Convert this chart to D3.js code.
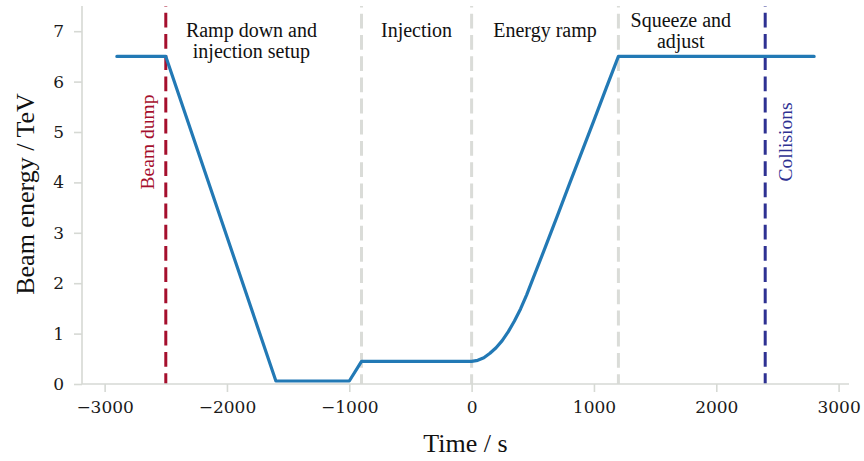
<!DOCTYPE html>
<html>
<head>
<meta charset="utf-8">
<script src="https://cdn.jsdelivr.net/npm/d3@7"></script>
<style>
  html, body { margin: 0; padding: 0; background: #fff; }
  svg { display: block; }
</style>
</head>
<body>
<svg id="chart" width="864" height="461"></svg>
<script>
// ---- data ----
const time   = [-2900, -2500, -1600, -1000, -900, 0, 50, 100, 150, 200, 250, 300, 350, 400, 450, 500, 600, 700, 800, 900, 1000, 1100, 1200, 2800];
const energy = [6.5, 6.5, 0.06, 0.06, 0.45, 0.45, 0.47, 0.52, 0.61, 0.72, 0.86, 1.04, 1.25, 1.49, 1.77, 2.08, 2.70, 3.33, 3.97, 4.60, 5.23, 5.87, 6.5, 6.5];

const phaseBoundaries = [-900, 0, 1200];
const eventTimes  = [-2500, 2400];
const eventLabels = ["Beam dump", "Collisions"];
const eventColors = ["#a50f2d", "#2e3192"];

const phaseLabels = [["Ramp down and", "injection setup"], ["Injection"], ["Energy ramp"], ["Squeeze and", "adjust"]];
const phaseLabelTimes = [-1800, -450, 600, 1710];
const phaseLabelTop = [36.5, 36.5, 36.5, 26.5];

const xTicks = [-3000, -2000, -1000, 0, 1000, 2000, 3000];
const yTicks = [0, 1, 2, 3, 4, 5, 6, 7];
const xDomain = [-3185, 3085];
const yDomain = [0, 7.5];

// ---- layout ----
const svg = d3.select("#chart");
const L = 82, R = 849, T = 6, B = 384;
const x = d3.scaleLinear().domain(xDomain).range([L, R]);
const y = d3.scaleLinear().domain(yDomain).range([B, T]);

const spineColor = "#d6d9d4";
const serif = "'Liberation Serif', 'Times New Roman', serif";

// phase boundary lines (gray dashed), drawn bottom to top
svg.append("g").selectAll("line").data(phaseBoundaries).join("line")
  .attr("x1", d => x(d)).attr("x2", d => x(d))
  .attr("y1", B).attr("y2", T)
  .attr("stroke", "#dadcd8").attr("stroke-width", 3)
  .attr("stroke-dasharray", "14.8,6.4").attr("stroke-dashoffset", 5);

// event lines
svg.append("g").selectAll("line").data(eventTimes).join("line")
  .attr("x1", d => x(d)).attr("x2", d => x(d))
  .attr("y1", B).attr("y2", T)
  .attr("stroke", (d, i) => eventColors[i]).attr("stroke-width", 3)
  .attr("stroke-dasharray", "14.8,6.4").attr("stroke-dashoffset", 4);

// energy line
const pts = time.map((t, i) => [t, energy[i]]);
svg.append("path")
  .datum(pts)
  .attr("fill", "none")
  .attr("stroke", "#2279b5")
  .attr("stroke-width", 3.2)
  .attr("stroke-linejoin", "round")
  .attr("stroke-linecap", "round")
  .attr("d", d3.line().x(d => x(d[0])).y(d => y(d[1])));

// axes
const xAxis = svg.append("g").attr("transform", `translate(0,${B})`)
  .call(d3.axisBottom(x).tickValues(xTicks).tickSizeOuter(0).tickSize(8).tickPadding(9)
    .tickFormat(d => d < 0 ? "\u2212" + Math.abs(d) : String(d)));
const yAxis = svg.append("g").attr("transform", `translate(${L},0)`)
  .call(d3.axisLeft(y).tickValues(yTicks).tickSizeOuter(0).tickSize(8).tickPadding(10)
    .tickFormat(d3.format("d")));

[xAxis, yAxis].forEach(g => {
  g.select(".domain").attr("stroke", spineColor).attr("stroke-width", 1.6);
  g.selectAll(".tick line").attr("stroke", spineColor).attr("stroke-width", 1.6);
  g.selectAll(".tick text").attr("fill", "#1a1a1a")
    .style("font-family", "'DejaVu Serif', serif").style("font-size", "17px");
});
// extend spines to full plot area
xAxis.select(".domain").attr("d", `M${L},0H${R}`);
yAxis.select(".domain").attr("d", `M0,${T}V${B}`);

// axis labels
svg.append("text")
  .attr("x", (L + R) / 2).attr("y", 452)
  .attr("text-anchor", "middle")
  .style("font-family", serif).style("font-size", "26px").attr("fill", "#111")
  .text("Time / s");
svg.append("text")
  .attr("transform", `translate(34,194) rotate(-90)`)
  .attr("text-anchor", "middle")
  .style("font-family", serif).style("font-size", "26px").attr("fill", "#111")
  .text("Beam energy / TeV");

// phase labels
phaseLabels.forEach((lines, i) => {
  const t = svg.append("text")
    .attr("text-anchor", "middle")
    .style("font-family", serif).style("font-size", "20px").attr("fill", "#111");
  lines.forEach((s, j) => {
    t.append("tspan")
      .attr("x", x(phaseLabelTimes[i]))
      .attr("y", phaseLabelTop[i] + j * 21.5)
      .text(s);
  });
});

// event labels (rotated)
const eventOffsets = [-12, 27];
eventTimes.forEach((t, i) => {
  svg.append("text")
    .attr("transform", `translate(${x(t) + eventOffsets[i]},142) rotate(-90)`)
    .attr("text-anchor", "middle")
    .style("font-family", serif).style("font-size", "19.5px")
    .attr("fill", eventColors[i])
    .text(eventLabels[i]);
});
</script>
</body>
</html>
